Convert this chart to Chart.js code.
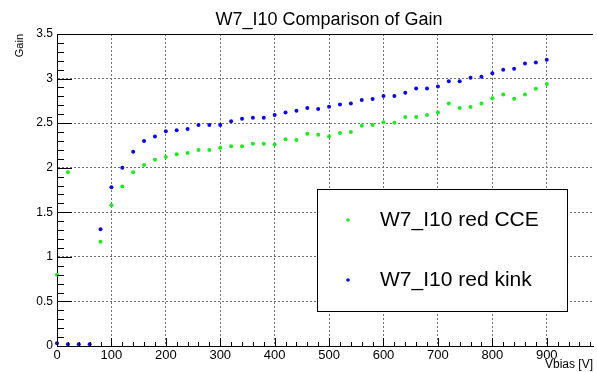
<!DOCTYPE html>
<html>
<head>
<meta charset="utf-8">
<script src="https://cdn.jsdelivr.net/npm/chart.js@4.4.0/dist/chart.umd.min.js"></script>
<style>
    html, body { margin: 0; padding: 0; background: #fff; }
    #wrap { width: 597px; height: 372px; }
</style>
</head>
<body>
<div id="wrap"><canvas id="gainChart"></canvas></div>
<script>
//Bias voltages (V)
const vbias = [0, 20, 40, 60, 80, 100, 120, 140, 160, 180, 200, 220, 240, 260, 280, 300, 320, 340, 360, 380,
    400, 420, 440, 460, 480, 500, 520, 540, 560, 580, 600, 620, 640, 660, 680, 700, 720, 740, 760, 780,
    800, 820, 840, 860, 880, 900];

//Gain from CCE (green) - no points visible at 40 and 60
const cceGain = [0.80, 1.95, null, null, 1.17, 1.58, 1.79, 1.95, 2.03, 2.09, 2.12, 2.15, 2.165, 2.20, 2.20, 2.225, 2.24, 2.24, 2.27, 2.27,
    2.26, 2.32, 2.31, 2.38, 2.37, 2.35, 2.39, 2.40, 2.47, 2.48, 2.51, 2.505, 2.57, 2.57, 2.59, 2.62, 2.72, 2.67, 2.68, 2.72,
    2.78, 2.82, 2.775, 2.82, 2.885, 2.94];

//Gain from kink (blue)
const kinkGain = [0.03, 0.02, 0.02, 0.02, 1.31, 1.78, 2.00, 2.18, 2.30, 2.35, 2.41, 2.42, 2.435, 2.48, 2.48, 2.48, 2.52, 2.55, 2.56, 2.56,
    2.59, 2.62, 2.64, 2.67, 2.66, 2.685, 2.71, 2.72, 2.76, 2.77, 2.805, 2.805, 2.84, 2.89, 2.89, 2.91, 2.97, 2.97, 3.01, 3.02,
    3.06, 3.10, 3.11, 3.17, 3.18, 3.21];

const seriesLabels = ['W7_I10 red CCE', 'W7_I10 red kink'];
const chartTitle = 'W7_I10 Comparison of Gain';

const green = 'rgb(30,235,30)';
const blue = 'rgb(10,10,225)';
const fontName = '"Liberation Sans", Arial, Helvetica, sans-serif';

function toPoints(ys) {
    let pts = [];
    for (let i = 0; i < vbias.length; i++) {
        if (ys[i] !== null) pts.push({x: vbias[i], y: ys[i]});
    }
    return pts;
}

//ROOT style frame: inward ticks, top border, title and legend box
const rootFrame = {
    id: 'rootFrame',
    afterDraw(chart) {
        const ctx = chart.ctx;
        const area = chart.chartArea;
        const xs = chart.scales.x;
        const ys = chart.scales.y;
        ctx.save();
        ctx.strokeStyle = '#000';
        ctx.lineWidth = 1;

        //top border
        ctx.beginPath();
        ctx.moveTo(area.left, area.top + 0.5);
        ctx.lineTo(area.right, area.top + 0.5);
        ctx.stroke();

        //y ticks (major every 0.5, minor every 0.1)
        ctx.beginPath();
        for (let i = 0; i <= 35; i++) {
            const py = Math.round(ys.getPixelForValue(i / 10)) + 0.5;
            const len = (i % 5 === 0) ? 15 : 7;
            ctx.moveTo(area.left, py);
            ctx.lineTo(area.left + len, py);
        }
        //x ticks (major every 100, minor every 20)
        for (let v = 0; v <= xs.max; v += 20) {
            const px = Math.round(xs.getPixelForValue(v)) + 0.5;
            const len = (v % 100 === 0) ? 8 : 4;
            ctx.moveTo(px, area.bottom);
            ctx.lineTo(px, area.bottom - len);
        }
        ctx.stroke();

        //title
        ctx.fillStyle = '#000';
        ctx.font = '18px ' + fontName;
        ctx.textAlign = 'center';
        ctx.textBaseline = 'middle';
        ctx.fillText(chartTitle, 329, 20);

        //legend box
        const bx = 317, by = 189, bw = 250, bh = 122;
        ctx.fillStyle = '#fff';
        ctx.fillRect(bx, by, bw, bh);
        ctx.strokeRect(bx + 0.5, by + 0.5, bw, bh);

        const entries = [{label: seriesLabels[0], color: green, y: 220},
                         {label: seriesLabels[1], color: blue, y: 280}];
        ctx.font = '21px ' + fontName;
        ctx.textAlign = 'left';
        for (const e of entries) {
            ctx.fillStyle = e.color;
            ctx.beginPath();
            ctx.arc(348, e.y, 1.8, 0, Math.PI * 2);
            ctx.fill();
            ctx.fillStyle = '#000';
            ctx.fillText(e.label, 380, e.y);
        }
        ctx.restore();
    }
};

const data = {
    datasets: [{
        label: seriesLabels[1],
        data: toPoints(kinkGain),
        backgroundColor: blue,
        borderColor: blue,
        pointRadius: 2,
        borderWidth: 0,
        clip: false
    }, {
        label: seriesLabels[0],
        data: toPoints(cceGain),
        backgroundColor: green,
        borderColor: green,
        pointRadius: 2,
        borderWidth: 0,
        clip: false
    }]
};

const config = {
    type: 'scatter',
    data: data,
    options: {
        responsive: true,
        maintainAspectRatio: false,
        animation: false,
        layout: {
            padding: {top: 34, left: 0, right: -4, bottom: 0}
        },
        scales: {
            x: {
                type: 'linear',
                min: 0,
                max: 985,
                afterFit: (scale) => { scale.height = 26; },
                ticks: {
                    stepSize: 100,
                    includeBounds: false,
                    padding: 2,
                    color: '#000',
                    font: {family: fontName, size: 13}
                },
                grid: {
                    drawTicks: false,
                    color: (c) => (c.tick && c.tick.value === 0) ? 'rgba(0,0,0,0)' : '#707070'
                },
                border: {display: true, color: '#000', width: 1, dash: [2, 2]},
                title: {
                    display: true,
                    text: 'Vbias [V]',
                    align: 'end',
                    padding: {top: 0, bottom: 0},
                    color: '#000',
                    font: {family: fontName, size: 12}
                }
            },
            y: {
                type: 'linear',
                min: 0,
                max: 3.5,
                afterFit: (scale) => { scale.width = 57; },
                ticks: {
                    stepSize: 0.5,
                    padding: 4,
                    color: '#000',
                    font: {family: fontName, size: 12},
                    callback: (v) => String(v)
                },
                grid: {
                    drawTicks: false,
                    color: (c) => (c.tick && (c.tick.value === 0 || c.tick.value === 3.5)) ? 'rgba(0,0,0,0)' : '#707070'
                },
                border: {display: true, color: '#000', width: 1, dash: [2, 2]},
                title: {
                    display: true,
                    text: 'Gain',
                    align: 'end',
                    padding: {top: 13, bottom: 0},
                    color: '#000',
                    font: {family: fontName, size: 11}
                }
            }
        },
        plugins: {
            legend: {display: false},
            title: {display: false},
            tooltip: {enabled: false}
        }
    },
    plugins: [rootFrame]
};

new Chart(document.getElementById('gainChart'), config);
</script>
</body>
</html>
